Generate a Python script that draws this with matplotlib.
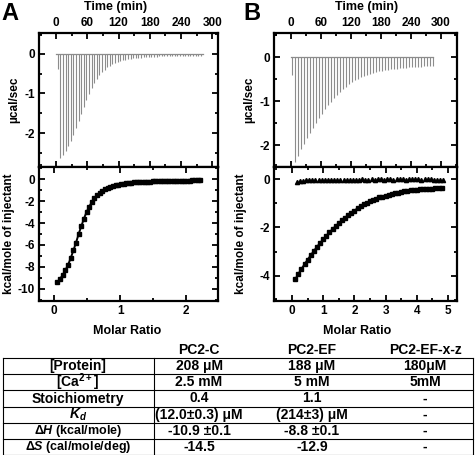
import numpy as np
import matplotlib
matplotlib.use("Agg")
import matplotlib.pyplot as plt
from matplotlib.ticker import MultipleLocator

plt.rcParams['font.family'] = ['Liberation Sans', 'DejaVu Sans']
plt.rcParams['font.weight'] = 'bold'
plt.rcParams['axes.unicode_minus'] = False
plt.rcParams['mathtext.fontset'] = 'custom'
plt.rcParams['mathtext.rm'] = 'Liberation Sans:bold'
plt.rcParams['mathtext.it'] = 'Liberation Sans:bold:italic'
plt.rcParams['mathtext.bf'] = 'Liberation Sans:bold'

# ---- raw thermogram, panel A (injection peaks, ucal/sec) ----
inj_time_a = np.arange(3, 280, 5)
peak_a = [-0.38, -2.62, -2.55, -2.45, -2.33, -2.20, -2.05, -1.88, -1.70, -1.52,
          -1.34, -1.17, -1.01, -0.87, -0.74, -0.63, -0.54, -0.46, -0.40, -0.34,
          -0.30, -0.26, -0.23, -0.20, -0.18, -0.16, -0.145, -0.13, -0.12, -0.11,
          -0.10, -0.095, -0.09, -0.085, -0.08, -0.075, -0.07, -0.068, -0.065, -0.062,
          -0.06, -0.058, -0.056, -0.054, -0.052, -0.05, -0.049, -0.048, -0.047, -0.046,
          -0.045, -0.044, -0.043, -0.042, -0.041, -0.04]

# ---- integrated heats, panel A (kcal/mole of injectant) ----
ratio_a = np.arange(0.05, 2.22, 0.04)
heat_a = [-9.4, -9.1, -8.7, -8.3, -7.8, -7.2, -6.5, -5.8, -5.0, -4.3,
          -3.6, -3.0, -2.5, -2.1, -1.75, -1.48, -1.25, -1.07, -0.92, -0.80,
          -0.70, -0.62, -0.55, -0.50, -0.45, -0.41, -0.38, -0.35, -0.32, -0.30,
          -0.28, -0.27, -0.26, -0.25, -0.24, -0.23, -0.22, -0.21, -0.20, -0.19,
          -0.18, -0.175, -0.17, -0.165, -0.16, -0.155, -0.15, -0.145, -0.14, -0.135,
          -0.13, -0.125, -0.12, -0.115, -0.11]

# ---- raw thermogram, panel B ----
inj_time_b = np.arange(2, 285, 6)
peak_b = [-0.40, -2.38, -2.25, -2.10, -1.97, -1.85, -1.73, -1.61, -1.50, -1.39,
          -1.29, -1.19, -1.10, -1.01, -0.93, -0.86, -0.79, -0.73, -0.67, -0.62,
          -0.57, -0.53, -0.49, -0.46, -0.43, -0.40, -0.38, -0.36, -0.34, -0.32,
          -0.31, -0.30, -0.29, -0.28, -0.27, -0.26, -0.25, -0.245, -0.24, -0.235,
          -0.23, -0.225, -0.22, -0.215, -0.21, -0.205, -0.20, -0.20]

# ---- integrated heats, panel B ----
ratio_b = np.arange(0.1, 4.85, 0.1)
heat_ef = [-4.15, -3.92, -3.72, -3.52, -3.33, -3.15, -2.97, -2.80, -2.64, -2.49,
           -2.34, -2.20, -2.07, -1.94, -1.82, -1.70, -1.59, -1.49, -1.39, -1.30,
           -1.21, -1.13, -1.05, -0.98, -0.92, -0.86, -0.81, -0.76, -0.72, -0.68,
           -0.64, -0.61, -0.58, -0.56, -0.53, -0.51, -0.49, -0.47, -0.46, -0.44,
           -0.43, -0.42, -0.41, -0.40, -0.39, -0.385, -0.38, -0.375]
ratio_xz = np.arange(0.15, 4.9, 0.1)
heat_xz = [-0.12, -0.08, -0.06, -0.05, -0.04, -0.04, -0.03, -0.03, -0.03, -0.03,
           -0.02, -0.03, -0.02, -0.02, -0.03, -0.02, -0.02, -0.02, -0.02, -0.02,
           -0.02, -0.01, -0.02, -0.02, -0.01, -0.02, -0.01, -0.01, -0.02, -0.01,
           -0.01, -0.02, -0.01, -0.01, -0.01, -0.02, -0.01, -0.01, -0.01, -0.01,
           -0.02, -0.01, -0.01, -0.01, -0.02, -0.02, -0.03, -0.05]

# ---- table ----
col_names = ['PC2-C', 'PC2-EF', 'PC2-EF-x-z']
row_names = ['[Protein]', '[Ca$^{2+}$]', 'Stoichiometry', '$K_d$',
             r'$\Delta H$ (kcal/mole)', r'$\Delta S$ (cal/mole/deg)']
val_pc2c = ['208 μM', '2.5 mM', '0.4', '(12.0±0.3) μM', '-10.9 ±0.1', '-14.5']
val_pc2ef = ['188 μM', '5 mM', '1.1', '(214±3) μM', '-8.8 ±0.1', '-12.9']
val_xz = ['180μM', '5mM', '-', '-', '-', '-']

W, H = 475, 455
fig = plt.figure(figsize=(W / 100, H / 100), dpi=100)


def box(x0, y0, x1, y1):
    return [x0 / W, 1 - y1 / H, (x1 - x0) / W, (y1 - y0) / H]


def style(ax, xmaj, xmin, ymaj, ymin, top):
    for s in ax.spines.values():
        s.set_linewidth(1.6)
    ax.xaxis.set_major_locator(MultipleLocator(xmaj))
    ax.xaxis.set_minor_locator(MultipleLocator(xmin))
    ax.yaxis.set_major_locator(MultipleLocator(ymaj))
    ax.yaxis.set_minor_locator(MultipleLocator(ymin))
    ax.tick_params(which='both', direction='in', top=True, right=True,
                   width=1.3, labelsize=8.5, pad=3)
    ax.tick_params(which='major', length=4)
    ax.tick_params(which='minor', length=2.5)
    if top:
        ax.tick_params(labeltop=True, labelbottom=False)
    for lab in ax.get_xticklabels() + ax.get_yticklabels():
        lab.set_fontweight('bold')


def thermogram(ax, t, p, tend):
    ax.vlines(t, p, 0, color='#8c8c8c', lw=0.8)
    ax.plot([0, tend], [0, 0], color='#8c8c8c', lw=0.9)


# panel A
axa1 = fig.add_axes(box(39, 33, 218, 167))
thermogram(axa1, inj_time_a, peak_a, 282)
axa1.set_xlim(-33, 311)
axa1.set_ylim(-2.86, 0.53)
style(axa1, 60, 30, 1, 0.5, True)
axa1.set_ylabel('µcal/sec', fontsize=8.5, fontweight='bold', labelpad=3)

axa2 = fig.add_axes(box(39, 167, 218, 301))
axa2.plot(ratio_a, heat_a, color='black', lw=1.4)
axa2.plot(ratio_a, heat_a, 's', color='black', ms=3)
axa2.set_xlim(-0.23, 2.48)
axa2.set_ylim(-11.1, 1.1)
style(axa2, 1, 0.5, 2, 1, False)
axa2.set_ylabel('kcal/mole of injectant', fontsize=8.5, fontweight='bold', labelpad=2)

# panel B
axb1 = fig.add_axes(box(274, 33, 457, 167))
thermogram(axb1, inj_time_b, peak_b, 284)
axb1.set_xlim(-34, 332)
axb1.set_ylim(-2.5, 0.55)
style(axb1, 60, 30, 1, 0.5, True)
axb1.set_ylabel('µcal/sec', fontsize=8.5, fontweight='bold', labelpad=3)

axb2 = fig.add_axes(box(274, 167, 457, 301))
axb2.plot(ratio_xz, heat_xz, '^', color='black', ms=3)
axb2.plot(ratio_b, heat_ef, color='black', lw=1.4)
axb2.plot(ratio_b, heat_ef, 's', color='black', ms=3.2)
axb2.set_xlim(-0.58, 5.29)
axb2.set_ylim(-5.04, 0.5)
style(axb2, 1, 0.5, 2, 1, False)
axb2.set_ylabel('kcal/mole of injectant', fontsize=8.5, fontweight='bold', labelpad=9)

# figure-level text
fig.text(10 / W, 1 - 13 / H, 'A', fontsize=17, fontweight='bold', ha='center', va='center')
fig.text(252 / W, 1 - 13 / H, 'B', fontsize=17, fontweight='bold', ha='center', va='center')
fig.text(116 / W, 1 - 7 / H, 'Time (min)', fontsize=9, fontweight='bold', ha='center', va='center')
fig.text(367 / W, 1 - 7 / H, 'Time (min)', fontsize=9, fontweight='bold', ha='center', va='center')
fig.text(127 / W, 1 - 331 / H, 'Molar Ratio', fontsize=9, fontweight='bold', ha='center', va='center')
fig.text(357 / W, 1 - 331 / H, 'Molar Ratio', fontsize=9, fontweight='bold', ha='center', va='center')

# table drawn in pixel coordinates
axt = fig.add_axes([0, 0, 1, 1], zorder=-1)
axt.set_xlim(0, W)
axt.set_ylim(H, 0)
axt.axis('off')
x_left, x_div, x_right = 3, 154, 473
y_top, row_h = 358, 16.2
n_rows = len(row_names)
col_x = [78, 199, 312, 425]
for i in range(n_rows + 1):
    y = y_top + i * row_h
    axt.plot([x_left, x_right], [y, y], color='black', lw=0.8)
for x in (x_left, x_div, x_right):
    axt.plot([x, x], [y_top, y_top + n_rows * row_h], color='black', lw=0.8)
for j, name in enumerate(col_names):
    axt.text(col_x[j + 1], y_top - 8, name, fontsize=10, fontweight='bold',
             ha='center', va='center')
for i in range(n_rows):
    yc = y_top + (i + 0.5) * row_h
    fs = 9 if i >= 4 else 10
    axt.text(col_x[0], yc, row_names[i], fontsize=fs, fontweight='bold', ha='center', va='center')
    for j, col in enumerate((val_pc2c, val_pc2ef, val_xz)):
        axt.text(col_x[j + 1], yc, col[i], fontsize=10, fontweight='bold',
                 ha='center', va='center')

fig.savefig('out.png', dpi=100)
